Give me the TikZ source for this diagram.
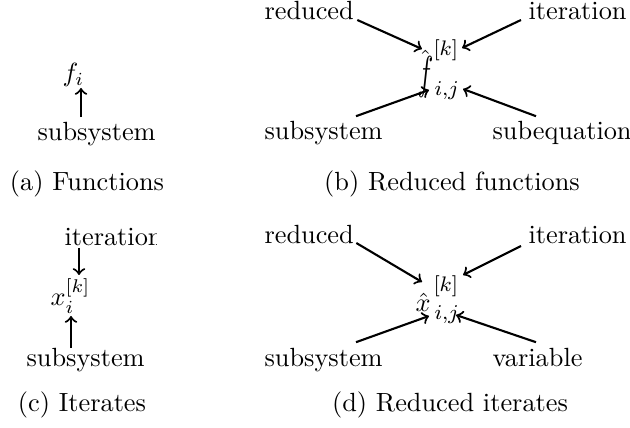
\documentclass[tikz,border=0pt]{standalone}
\usepackage{graphicx}
\usetikzlibrary{calc}
\begin{document}
\begin{tikzpicture}[x=0.38pt,y=-0.38pt,
  lbl/.style={inner sep=0pt,anchor=base west},
  scr/.style={inner sep=0pt,anchor=base west,font=\fontsize{8}{9}\selectfont},
  captxt/.style={inner sep=0pt,anchor=base},
  arr/.style={->,thick}]
\useasboundingbox (0,0) rectangle (630,428);
% (a)
\node[lbl] (fa) at (62,82) {$f_i$};
\node[lbl] (sa) at (37,141) {subsystem};
\coordinate (ta) at (81,88);
\draw[arr] ($(sa.north west)+(44,-5)$) -- (ta);
\node[captxt] (capa) at (87,191) {(a) Functions};
% (b)
\node[lbl] (rb) at (264,20) {reduced};
\node[lbl] (ib) at (528,20) {iteration};
\node[lbl] (fb) at (417,89) {$\hat{\scalebox{1}[1.75]{$f$}}$};
\node[scr] (kb) at (433,56) {$[k]$};
\node[scr] (ijb) at (434,96) {$i{,}j$};
\node[lbl] (sb) at (264,140) {subsystem};
\node[lbl] (eb) at (492,140) {subequation};
\coordinate (tb1) at (422,49);
\coordinate (tb2) at (462,48);
\coordinate (tb3) at (429,90);
\coordinate (tb4) at (463,89);
\draw[arr] ($(rb.base east)+(3,0)$) -- (tb1);
\draw[arr] ($(ib.base west)+(-7,0)$) -- (tb2);
\draw[arr] ($(sb.north west)+(92,-5)$) -- (tb3);
\draw[arr] ($(eb.north west)+(44,-5)$) -- (tb4);
\node[captxt] (capb) at (452,191) {(b) Reduced functions};
% (c)
\begin{scope}
\clip (0,225) rectangle (156,260);
\node[lbl] (ic) at (64,246) {iteration};
\end{scope}
\node[lbl] (xc) at (50,306) {$x_i^{[k]}$};
\node[lbl] (sc) at (26,367) {subsystem};
\coordinate (tc1) at (79,275);
\coordinate (tc2) at (71,316);
\draw[arr] ($(ic.base west)+(15,2)$) -- (tc1);
\draw[arr] ($(sc.north west)+(45,0)$) -- (tc2);
\node[captxt] (capc) at (82,412) {(c) Iterates};
% (d)
\node[lbl] (rd) at (264,244) {reduced};
\node[lbl] (id) at (528,244) {iteration};
\node[lbl] (xd) at (415,312) {$\hat{x}$};
\node[scr] (kd) at (433,292) {$[k]$};
\node[scr] (ijd) at (434,320) {$i{,}j$};
\node[lbl] (sd) at (264,367) {subsystem};
\node[lbl] (vd) at (492,367) {variable};
\coordinate (td1) at (422,282);
\coordinate (td2) at (463,275);
\coordinate (td3) at (429,316);
\coordinate (td4) at (456,315);
\draw[arr] ($(rd.base east)+(2,-1)$) -- (td1);
\draw[arr] ($(id.base west)+(-7,2)$) -- (td2);
\draw[arr] ($(sd.north west)+(92,-6)$) -- (td3);
\draw[arr] ($(vd.north west)+(44,-6)$) -- (td4);
\node[captxt] (capd) at (450,412) {(d) Reduced iterates};
\end{tikzpicture}
\end{document}
